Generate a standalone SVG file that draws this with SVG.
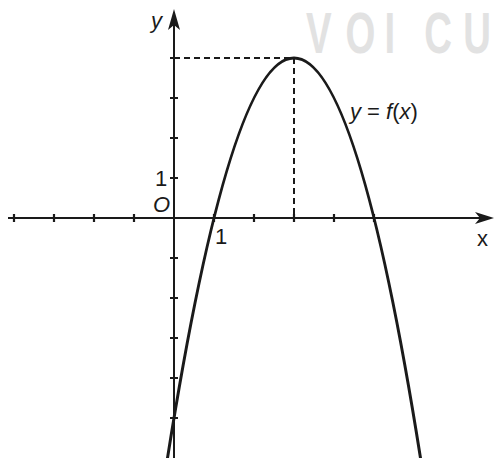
<svg xmlns="http://www.w3.org/2000/svg" width="494" height="458" viewBox="0 0 494 458">
<style>
.axis{stroke:#1a1a1a;stroke-width:2;fill:none}
.tick{stroke:#1a1a1a;stroke-width:2.2}
.curve{stroke:#1a1a1a;stroke-width:3;fill:none}
.dash{stroke:#1a1a1a;stroke-width:2;stroke-dasharray:6 4;fill:none}
.lbl{font-family:"Liberation Sans",Arial,sans-serif;font-size:22px;fill:#1a1a1a}
.it{font-style:italic}
.wm{font-family:"Liberation Sans",Arial,sans-serif;font-weight:bold;font-size:64px;fill:#e2e2e2}
.head{fill:#1a1a1a;stroke:none}
</style>
<g id="watermark">
<text class="wm" transform="translate(0,53) scale(0.6,0.91)" x="510 576 641 680 707 772" y="0">VOI CU</text>
</g>
<g id="axes">
<line class="axis" x1="8" y1="218" x2="484" y2="218"/>
<path class="head" d="M494,218 L475,212 L480,218 L475,224 Z"/>
<line class="axis" x1="174" y1="458" x2="174" y2="20"/>
<path class="head" d="M174,9 L168,30 L174,25 L180,30 Z"/>
</g>
<g id="ticks">
<path class="tick" d="M14,214V222M54,214V222M94,214V222M134,214V222M214,214V222M254,214V222M294,214V222M334,214V222M374,214V222"/>
<path class="tick" d="M170,178H178M170,138H178M170,98H178M170,58H178M170,258H178M170,298H178M170,338H178M170,378H178M170,418H178"/>
</g>
<g id="guides">
<path class="dash" d="M174,58H294V218"/>
</g>
<g id="curve">
<path class="curve" d="M162,493.6 Q294,-377.6 426,493.6"/>
</g>
<g id="labels">
<text class="lbl it" x="151" y="28">y</text>
<text class="lbl" x="477" y="246">x</text>
<text class="lbl it" x="153" y="212">O</text>
<text class="lbl" x="155" y="186">1</text>
<text class="lbl" x="215" y="244">1</text>
<text class="lbl" x="350" y="119"><tspan class="it">y</tspan> = <tspan class="it">f</tspan>(<tspan class="it">x</tspan>)</text>
</g>
</svg>
